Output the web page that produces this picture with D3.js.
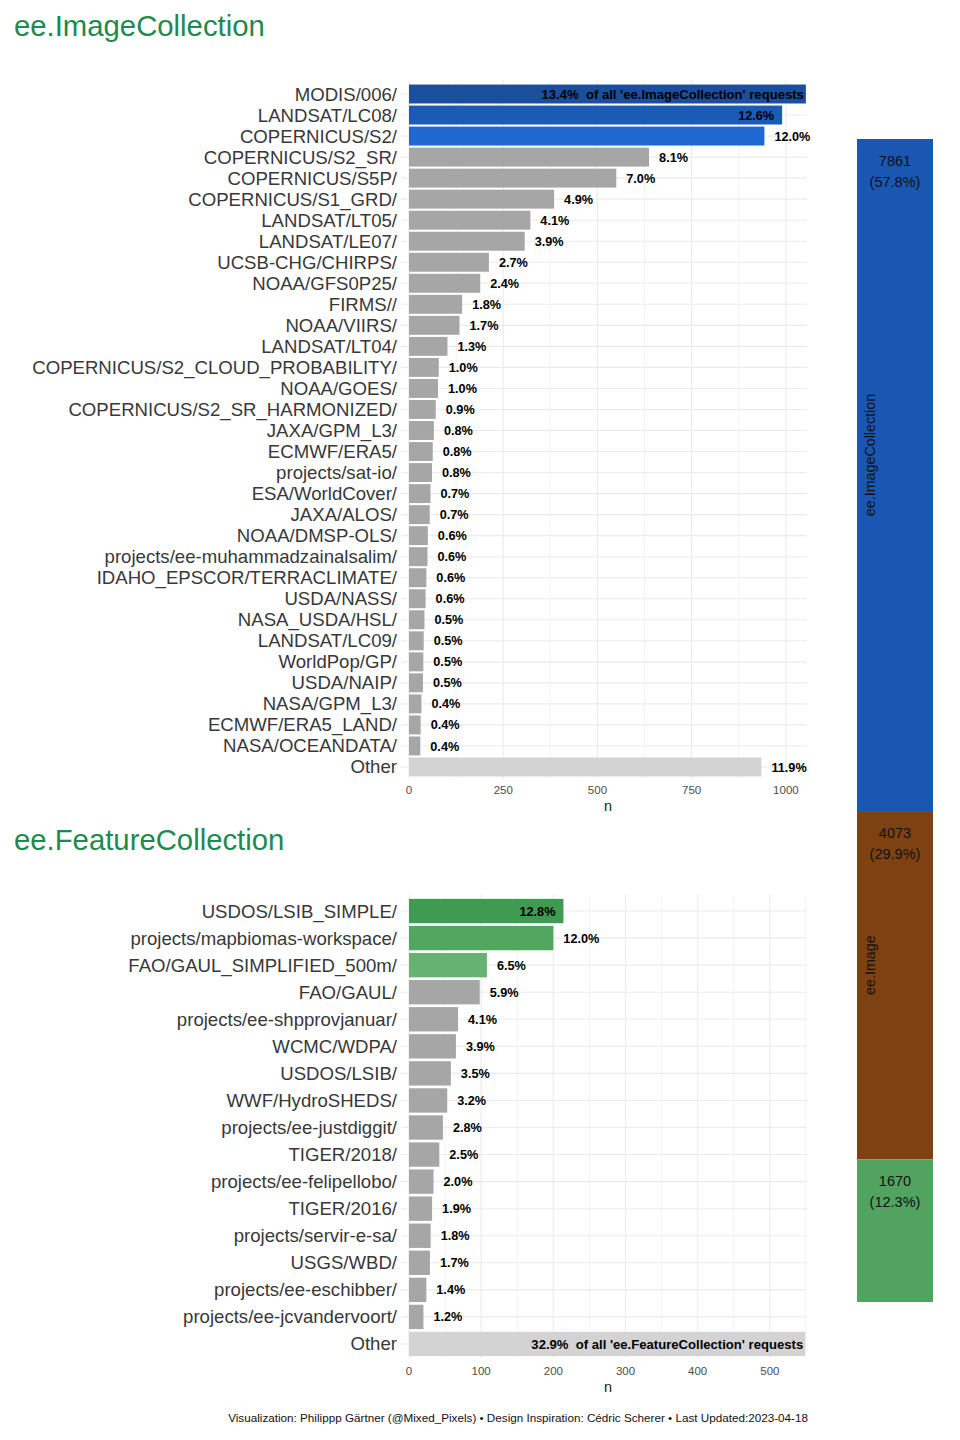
<!DOCTYPE html>
<html>
<head>
<meta charset="utf-8">
<script src="https://cdn.jsdelivr.net/npm/d3@7"></script>
<style>
  body { margin: 0; background: #fff; }
  svg { font-family: "Liberation Sans", Arial, sans-serif; }
</style>
</head>
<body>
<svg id="chart" width="960" height="1440"></svg>
<script>
// ee.ImageCollection datasets
const imgCats = ["MODIS/006/", "LANDSAT/LC08/", "COPERNICUS/S2/", "COPERNICUS/S2_SR/", "COPERNICUS/S5P/",
  "COPERNICUS/S1_GRD/", "LANDSAT/LT05/", "LANDSAT/LE07/", "UCSB-CHG/CHIRPS/", "NOAA/GFS0P25/",
  "FIRMS//", "NOAA/VIIRS/", "LANDSAT/LT04/", "COPERNICUS/S2_CLOUD_PROBABILITY/", "NOAA/GOES/",
  "COPERNICUS/S2_SR_HARMONIZED/", "JAXA/GPM_L3/", "ECMWF/ERA5/", "projects/sat-io/", "ESA/WorldCover/",
  "JAXA/ALOS/", "NOAA/DMSP-OLS/", "projects/ee-muhammadzainalsalim/", "IDAHO_EPSCOR/TERRACLIMATE/", "USDA/NASS/",
  "NASA_USDA/HSL/", "LANDSAT/LC09/", "WorldPop/GP/", "USDA/NAIP/", "NASA/GPM_L3/",
  "ECMWF/ERA5_LAND/", "NASA/OCEANDATA/", "Other"];
const imgN = [1053, 990, 943, 637, 550, 385, 322, 307, 212, 189, 141, 134, 102, 79, 77, 71, 66, 63, 61, 57,
  55, 50, 49, 46, 44, 41, 39, 38, 37, 33, 31, 30, 935];
const imgPct = ["13.4%", "12.6%", "12.0%", "8.1%", "7.0%", "4.9%", "4.1%", "3.9%", "2.7%", "2.4%",
  "1.8%", "1.7%", "1.3%", "1.0%", "1.0%", "0.9%", "0.8%", "0.8%", "0.8%", "0.7%",
  "0.7%", "0.6%", "0.6%", "0.6%", "0.6%", "0.5%", "0.5%", "0.5%", "0.5%", "0.4%",
  "0.4%", "0.4%", "11.9%"];
const imgTicks = [0, 250, 500, 750, 1000];

// ee.FeatureCollection datasets
const fcCats = ["USDOS/LSIB_SIMPLE/", "projects/mapbiomas-workspace/", "FAO/GAUL_SIMPLIFIED_500m/", "FAO/GAUL/",
  "projects/ee-shpprovjanuar/", "WCMC/WDPA/", "USDOS/LSIB/", "WWF/HydroSHEDS/", "projects/ee-justdiggit/",
  "TIGER/2018/", "projects/ee-felipellobo/", "TIGER/2016/", "projects/servir-e-sa/", "USGS/WBD/",
  "projects/ee-eschibber/", "projects/ee-jcvandervoort/", "Other"];
const fcN = [214, 200, 108, 98, 68, 65, 58, 53, 47, 42, 34, 32, 30, 29, 24, 20, 549];
const fcPct = ["12.8%", "12.0%", "6.5%", "5.9%", "4.1%", "3.9%", "3.5%", "3.2%", "2.8%",
  "2.5%", "2.0%", "1.9%", "1.8%", "1.7%", "1.4%", "1.2%", "32.9%"];
const fcTicks = [0, 100, 200, 300, 400, 500];

// request type totals (stacked bar on the right)
const typeNames = ["ee.ImageCollection", "ee.Image", "ee.FeatureCollection"];
const typeCounts = [7861, 4073, 1670];

const caption = "Visualization: Philippp Gärtner (@Mixed_Pixels) \u2022 Design Inspiration: Cédric Scherer \u2022 Last Updated:2023-04-18";

const svg = d3.select("#chart");
const gridCol = "#EBEBEB";
const textCol = "#383838";

function drawPanel(cfg) {
  const g = svg.append("g");

  const x = d3.scaleLinear().domain([0, cfg.xmax]).range([409, 807]);
  const y = d3.scaleBand().domain(cfg.cats).range(cfg.yRange).paddingInner(0.1).paddingOuter(0.05);

  // title
  g.append("text")
    .attr("x", 14).attr("y", cfg.titleY)
    .attr("fill", "#1D8A4E")
    .attr("font-size", 29.3)
    .text(cfg.title);

  // grid
  const minor = d3.range(cfg.minorStep, cfg.xmax, cfg.minorStep * 2);
  g.append("g").selectAll("line.minor")
    .data(minor).join("line")
    .attr("x1", d => x(d)).attr("x2", d => x(d))
    .attr("y1", cfg.gridY[0]).attr("y2", cfg.gridY[1])
    .attr("stroke", gridCol).attr("stroke-width", 0.6);
  g.append("g").selectAll("line.major")
    .data(cfg.ticks).join("line")
    .attr("x1", d => x(d)).attr("x2", d => x(d))
    .attr("y1", cfg.gridY[0]).attr("y2", cfg.gridY[1])
    .attr("stroke", gridCol).attr("stroke-width", 1.1);
  g.append("g").selectAll("line.hz")
    .data(cfg.cats).join("line")
    .attr("x1", 401).attr("x2", 807)
    .attr("y1", d => y(d) + y.bandwidth() / 2).attr("y2", d => y(d) + y.bandwidth() / 2)
    .attr("stroke", gridCol).attr("stroke-width", 1.1);

  // bars
  const color = (d, i) => i < cfg.highlight.length ? cfg.highlight[i]
    : (d === "Other" ? "#D3D3D3" : "#A6A6A6");
  g.append("g").selectAll("rect")
    .data(cfg.cats).join("rect")
    .attr("x", x(0))
    .attr("y", d => y(d))
    .attr("width", (d, i) => x(cfg.n[i]) - x(0))
    .attr("height", y.bandwidth())
    .attr("fill", color);

  // category labels
  g.append("g").selectAll("text")
    .data(cfg.cats).join("text")
    .attr("x", 397)
    .attr("y", d => y(d) + y.bandwidth() / 2)
    .attr("dy", "0.35em")
    .attr("text-anchor", "end")
    .attr("font-size", 18.6)
    .attr("fill", textCol)
    .text(d => d);

  // percent labels
  g.append("g").selectAll("text")
    .data(cfg.cats).join("text")
    .attr("x", (d, i) => {
      const e = x(cfg.n[i]);
      if (i === cfg.longIndex) return e - 2;
      if (i === cfg.insideIndex) return e - 8;
      return e + 10;
    })
    .attr("y", d => y(d) + y.bandwidth() / 2)
    .attr("dy", "0.36em")
    .attr("text-anchor", (d, i) => (i === cfg.longIndex || i === cfg.insideIndex) ? "end" : "start")
    .attr("font-size", (d, i) => i === cfg.longIndex ? 13.1 : 12.7)
    .attr("font-weight", "bold")
    .attr("fill", "#000")
    .style("white-space", "pre")
    .text((d, i) => i === cfg.longIndex
      ? cfg.pct[i] + "  of all '" + cfg.title + "' requests"
      : cfg.pct[i]);

  // x axis
  g.append("g").selectAll("text")
    .data(cfg.ticks).join("text")
    .attr("x", d => x(d))
    .attr("y", cfg.tickY)
    .attr("dy", "0.35em")
    .attr("text-anchor", "middle")
    .attr("font-size", 11.5)
    .attr("fill", "#4D4D4D")
    .text(d => d);
  g.append("text")
    .attr("x", (x(0) + 807) / 2)
    .attr("y", cfg.tickY + 16)
    .attr("dy", "0.35em")
    .attr("text-anchor", "middle")
    .attr("font-size", 14.5)
    .attr("fill", "#222")
    .text("n");
}

drawPanel({
  title: "ee.ImageCollection", titleY: 36,
  cats: imgCats, n: imgN, pct: imgPct, ticks: imgTicks,
  xmax: 1056, minorStep: 125,
  yRange: [83.5, 777.5], gridY: [80, 779], tickY: 790,
  highlight: ["#1B4F9C", "#1A5BB6", "#1F68D1"],
  longIndex: 0, insideIndex: 1
});

drawPanel({
  title: "ee.FeatureCollection", titleY: 850,
  cats: fcCats, n: fcN, pct: fcPct, ticks: fcTicks,
  xmax: 551.5, minorStep: 50,
  yRange: [897.5, 1357.5], gridY: [895, 1358], tickY: 1371,
  highlight: ["#3F9A52", "#52A660", "#66B272"],
  longIndex: fcCats.length - 1, insideIndex: 0
});

// stacked bar of request types
const total = d3.sum(typeCounts);
const stackY = d3.scaleLinear().domain([0, total]).range([139, 1302]);
const typeColors = ["#1A57B2", "#7E4212", "#52A35F"];
const starts = d3.cumsum([0].concat(typeCounts.slice(0, -1)));
const fmtPct = d3.format(".1%");
const sg = svg.append("g");

typeNames.forEach((name, i) => {
  const y0 = stackY(starts[i]);
  const y1 = stackY(starts[i] + typeCounts[i]);
  sg.append("rect")
    .attr("x", 857).attr("width", 76)
    .attr("y", y0).attr("height", y1 - y0)
    .attr("fill", typeColors[i]);
  sg.append("text")
    .attr("x", 895).attr("y", y0 + 22)
    .attr("dy", "0.35em")
    .attr("text-anchor", "middle")
    .attr("font-size", 14.5).attr("fill", "#111")
    .text(typeCounts[i]);
  sg.append("text")
    .attr("x", 895).attr("y", y0 + 43)
    .attr("dy", "0.35em")
    .attr("text-anchor", "middle")
    .attr("font-size", 14.5).attr("fill", "#111")
    .text("(" + fmtPct(typeCounts[i] / total) + ")");
  if (y1 - y0 > 200) {
    const cy = (y0 + y1) / 2 - 20;
    sg.append("text")
      .attr("transform", `translate(875,${cy}) rotate(-90)`)
      .attr("text-anchor", "middle")
      .attr("font-size", 14.3).attr("fill", "#111")
      .text(name);
  }
});

// caption
svg.append("text")
  .attr("x", 808).attr("y", 1422)
  .attr("text-anchor", "end")
  .attr("font-size", 11.7)
  .attr("fill", "#111")
  .text(caption);
</script>
</body>
</html>
